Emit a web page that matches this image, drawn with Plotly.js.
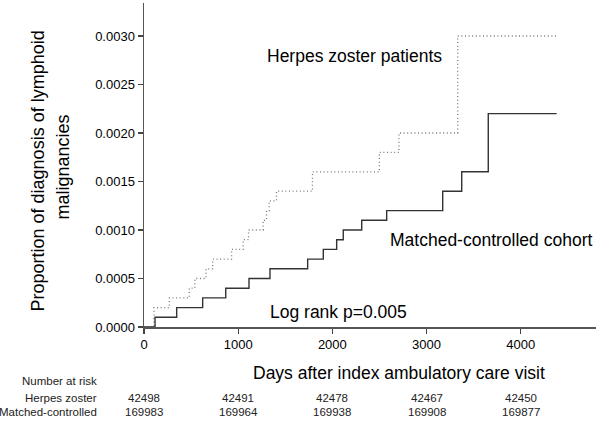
<!DOCTYPE html>
<html>
<head>
<meta charset="utf-8">
<script src="https://cdn.plot.ly/plotly-3.0.1.min.js"></script>
<style>
html,body{margin:0;padding:0;background:#fff;}
#chart{width:600px;height:421px;}
</style>
</head>
<body>
<div id="chart"></div>
<script>
// Herpes zoster patients (dotted)
var herpesDays = [0, 106, 269, 481, 540, 658, 729, 930, 1053, 1110, 1265, 1301, 1329, 1407, 1789, 2499, 2708, 3331, 4382];
var herpesProp = [0, 0.0002, 0.0003, 0.0004, 0.0005, 0.0006, 0.0007, 0.0008, 0.0009, 0.0010, 0.0011, 0.0012, 0.0013, 0.0014, 0.0016, 0.0018, 0.0020, 0.0030, 0.0030];
// Matched-controlled cohort (solid)
var controlDays = [0, 117, 347, 623, 868, 1115, 1338, 1738, 1904, 2046, 2116, 2312, 2577, 3172, 3374, 3656, 4382];
var controlProp = [0, 0.0001, 0.0002, 0.0003, 0.0004, 0.0005, 0.0006, 0.0007, 0.0008, 0.0009, 0.0010, 0.0011, 0.0012, 0.0014, 0.0016, 0.0022, 0.0022];
// Number at risk table
var riskDays = [0, 1000, 2000, 3000, 4000];
var herpesRisk = [42498, 42491, 42478, 42467, 42450];
var controlRisk = [169983, 169964, 169938, 169908, 169877];
var xTicks = [0, 1000, 2000, 3000, 4000];
var yTicks = [0, 0.0005, 0.0010, 0.0015, 0.0020, 0.0025, 0.0030];

var FONT = 'Arial, "Liberation Sans", sans-serif';

var traces = [
  {x: herpesDays, y: herpesProp, mode: 'lines', line: {shape: 'hv', color: '#777', width: 1.3, dash: '1px,2.6px'}, hoverinfo: 'skip'},
  {x: controlDays, y: controlProp, mode: 'lines', line: {shape: 'hv', color: '#333', width: 1.4}, hoverinfo: 'skip'}
];

var ann = [
  {text: 'Herpes zoster patients', x: 0.2677, y: 0.8364, xanchor: 'left', size: 17.5},
  {text: 'Matched-controlled cohort', x: 0.5405, y: 0.2685, xanchor: 'left', size: 17.5},
  {text: 'Log rank p=0.005', x: 0.2737, y: 0.0463, xanchor: 'left', size: 17.5},
  {text: 'Days after index ambulatory care visit', x: 0.5642, y: -0.142, xanchor: 'center', size: 17.5},
  {text: 'Proportion of diagnosis of lymphoid', x: -0.2345, y: 0.48, xanchor: 'center', size: 18, rot: -90},
  {text: 'malignancies', x: -0.1792, y: 0.4923, xanchor: 'center', size: 18, rot: -90},
  {text: 'Number at risk', x: -0.0989, y: -0.1657, xanchor: 'right', size: 11.5, color: '#222'},
  {text: 'Herpes zoster', x: -0.0989, y: -0.2182, xanchor: 'right', size: 11.5, color: '#222'},
  {text: 'Matched-controlled', x: -0.0989, y: -0.2623, xanchor: 'right', size: 11.5, color: '#222'}
].map(function(a){
  return {text: a.text, x: a.x, y: a.y, xref: 'paper', yref: 'paper', xanchor: a.xanchor, yanchor: 'middle',
    showarrow: false, textangle: a.rot || 0, font: {family: FONT, size: a.size, color: a.color || '#000'}};
});
riskDays.forEach(function(d, i){
  ann.push({text: String(herpesRisk[i]), x: d, y: -0.2182, xref: 'x', yref: 'paper', xanchor: 'center', yanchor: 'middle', showarrow: false, font: {family: FONT, size: 11.5, color: '#222'}});
  ann.push({text: String(controlRisk[i]), x: d, y: -0.2623, xref: 'x', yref: 'paper', xanchor: 'center', yanchor: 'middle', showarrow: false, font: {family: FONT, size: 11.5, color: '#222'}});
});

var layout = {
  width: 600, height: 421,
  margin: {l: 144, r: 4, t: 3, b: 94, pad: 0},
  paper_bgcolor: '#fff', plot_bgcolor: '#fff',
  showlegend: false,
  font: {family: FONT, color: '#000'},
  xaxis: {range: [0, 4800], tickvals: xTicks, ticks: 'outside', ticklen: 5, tickcolor: '#444', tickwidth: 1.3,
    showline: true, linecolor: '#555', linewidth: 1.5, showgrid: false, zeroline: false,
    tickfont: {family: FONT, size: 13, color: '#000'}, fixedrange: true},
  yaxis: {range: [0, 0.00334], tickvals: yTicks, tickformat: '.4f', ticks: 'outside', ticklen: 5, tickcolor: '#444', tickwidth: 1.3,
    showline: true, linecolor: '#555', linewidth: 1.5, showgrid: false, zeroline: false,
    tickfont: {family: FONT, size: 13, color: '#000'}, fixedrange: true},
  annotations: ann
};

Plotly.newPlot('chart', traces, layout, {displayModeBar: false, staticPlot: true});
</script>
</body>
</html>
